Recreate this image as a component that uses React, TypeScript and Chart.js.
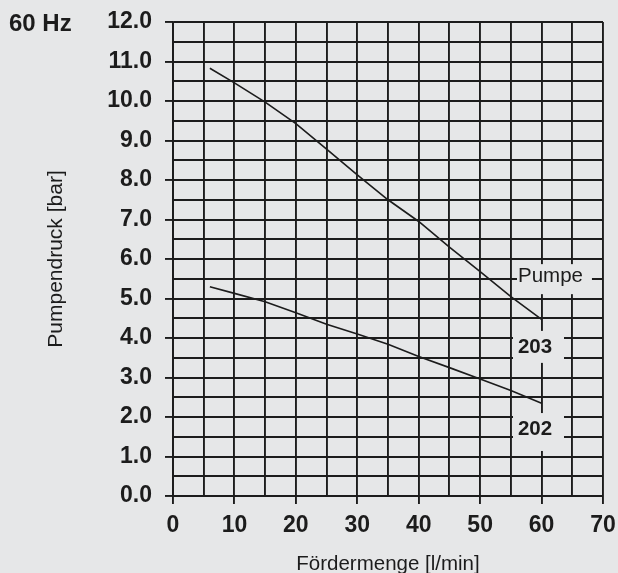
import React, { useEffect, useRef } from "react";
import { Chart, registerables } from "chart.js";

Chart.register(...registerables);

// ---- data ----
const flow203 = [6, 10, 15, 20, 25, 30, 35, 40, 45, 50, 55, 60];
const pressure203 = [10.83, 10.46, 9.97, 9.43, 8.78, 8.13, 7.5, 6.95, 6.3, 5.68, 5.05, 4.47];
const flow202 = [6, 10, 15, 20, 25, 30, 35, 40, 45, 50, 55, 60];
const pressure202 = [5.3, 5.13, 4.92, 4.64, 4.35, 4.1, 3.84, 3.53, 3.25, 2.96, 2.67, 2.35];

const xMin = 0;
const xMax = 70;
const xStep = 5;
const yMin = 0;
const yMax = 12;
const yStep = 0.5;

const frequencyLabel = "60 Hz";
const xTitle = "Fördermenge [l/min]";
const yTitle = "Pumpendruck [bar]";
const curveNames = ["203", "202"];
const pumpLabel = "Pumpe";

// ---- styling / annotation placement ----
const BG = "#e6e7e8";
const INK = "#1c1c1c";
const FONT = "'Liberation Sans', Arial, Helvetica, sans-serif";

const labelBoxes = [
  { text: pumpLabel, bold: false, x0: 56.0, x1: 68.2, y0: 5.11, y1: 5.87, tx: 61.45, ty: 5.57 },
  { text: curveNames[0], bold: true, x0: 55.35, x1: 63.65, y0: 3.37, y1: 4.18, tx: 58.93, ty: 3.76 },
  { text: curveNames[1], bold: true, x0: 55.35, x1: 63.65, y0: 1.14, y1: 2.1, tx: 58.93, ty: 1.7 },
];

const toPoints = (xs: number[], ys: number[]) => xs.map((x, i) => ({ x, y: ys[i] }));

const bgPlugin = {
  id: "bgFill",
  beforeDraw(chart: any) {
    const { ctx, width, height } = chart;
    ctx.save();
    ctx.fillStyle = BG;
    ctx.fillRect(0, 0, width, height);
    ctx.restore();
  },
};

const labelPlugin = {
  id: "curveLabels",
  beforeDatasetsDraw(chart: any) {
    const { ctx } = chart;
    const xs = chart.scales.x;
    const ys = chart.scales.y;
    ctx.save();
    labelBoxes.forEach((b) => {
      const l = xs.getPixelForValue(b.x0);
      const r = xs.getPixelForValue(b.x1);
      const t = ys.getPixelForValue(b.y1);
      const btm = ys.getPixelForValue(b.y0);
      ctx.fillStyle = BG;
      ctx.fillRect(l, t, r - l, btm - t);
    });
    labelBoxes.forEach((b) => {
      ctx.fillStyle = INK;
      ctx.font = `${b.bold ? "bold " : ""}20.5px ${FONT}`;
      ctx.textAlign = "center";
      ctx.textBaseline = "middle";
      ctx.fillText(b.text, xs.getPixelForValue(b.tx), ys.getPixelForValue(b.ty));
    });
    ctx.restore();
  },
  afterDraw(chart: any) {
    const { ctx } = chart;
    ctx.save();
    ctx.fillStyle = INK;
    ctx.font = `bold 24px ${FONT}`;
    ctx.textAlign = "left";
    ctx.textBaseline = "middle";
    ctx.fillText(frequencyLabel, 9, 24.5);
    ctx.restore();
  },
};

export default function App() {
  const ref = useRef<HTMLCanvasElement | null>(null);

  useEffect(() => {
    document.body.style.margin = "0";
    document.body.style.background = BG;
    if (!ref.current) return;
    const chart = new Chart(ref.current, {
      type: "line",
      data: {
        datasets: [
          {
            label: curveNames[0],
            data: toPoints(flow203, pressure203),
            borderColor: INK,
            borderWidth: 1.6,
            pointRadius: 0,
            tension: 0,
            fill: false,
          },
          {
            label: curveNames[1],
            data: toPoints(flow202, pressure202),
            borderColor: INK,
            borderWidth: 1.6,
            pointRadius: 0,
            tension: 0,
            fill: false,
          },
        ],
      },
      options: {
        responsive: false,
        animation: false,
        events: [],
        layout: { padding: { top: 22, right: 15, left: 0, bottom: 0 } },
        plugins: {
          legend: { display: false },
          tooltip: { enabled: false },
          title: { display: false },
        },
        scales: {
          x: {
            type: "linear",
            min: xMin,
            max: xMax,
            afterFit: (s: any) => {
              s.height = 77;
              s.paddingLeft = 0;
              s.paddingRight = 0;
            },
            ticks: {
              stepSize: xStep,
              autoSkip: false,
              maxRotation: 0,
              minRotation: 0,
              padding: 8,
              color: INK,
              font: { family: FONT, size: 23, weight: "bold" },
              callback: (v: any) => (Number(v) % 10 === 0 ? String(v) : ""),
            },
            grid: {
              color: INK,
              lineWidth: 1.9,
              tickLength: 8,
              tickWidth: 1.9,
              tickColor: (c: any) =>
                c.tick && Math.abs(c.tick.value % 10) < 1e-6 ? INK : "rgba(0,0,0,0)",
            },
            border: { color: INK, width: 1.9 },
            title: {
              display: true,
              text: xTitle,
              color: INK,
              font: { family: FONT, size: 20.5, lineHeight: 0.85 },
              padding: { top: 0, bottom: 0 },
            },
          },
          y: {
            type: "linear",
            min: yMin,
            max: yMax,
            afterFit: (s: any) => {
              s.width = 173;
              s.paddingTop = 0;
              s.paddingBottom = 0;
            },
            ticks: {
              stepSize: yStep,
              autoSkip: false,
              padding: 13,
              color: INK,
              font: { family: FONT, size: 23, weight: "bold" },
              callback: (v: any) =>
                Math.abs(Number(v) % 1) < 1e-6 ? Number(v).toFixed(1) : "",
            },
            grid: {
              color: INK,
              lineWidth: 1.9,
              tickLength: 8,
              tickWidth: 1.9,
              tickColor: (c: any) =>
                c.tick && Math.abs(c.tick.value % 1) < 1e-6 ? INK : "rgba(0,0,0,0)",
            },
            border: { color: INK, width: 1.9 },
            title: {
              display: true,
              text: yTitle,
              color: INK,
              font: { family: FONT, size: 21, lineHeight: 1.2 },
              padding: { top: 44, bottom: 0 },
            },
          },
        },
      },
      plugins: [bgPlugin, labelPlugin],
    } as any);
    return () => chart.destroy();
  }, []);

  return (
    <div style={{ position: "absolute", left: 0, top: 0, width: 618, height: 573, background: BG }}>
      <canvas ref={ref} width={618} height={573} style={{ display: "block" }} />
    </div>
  );
}
